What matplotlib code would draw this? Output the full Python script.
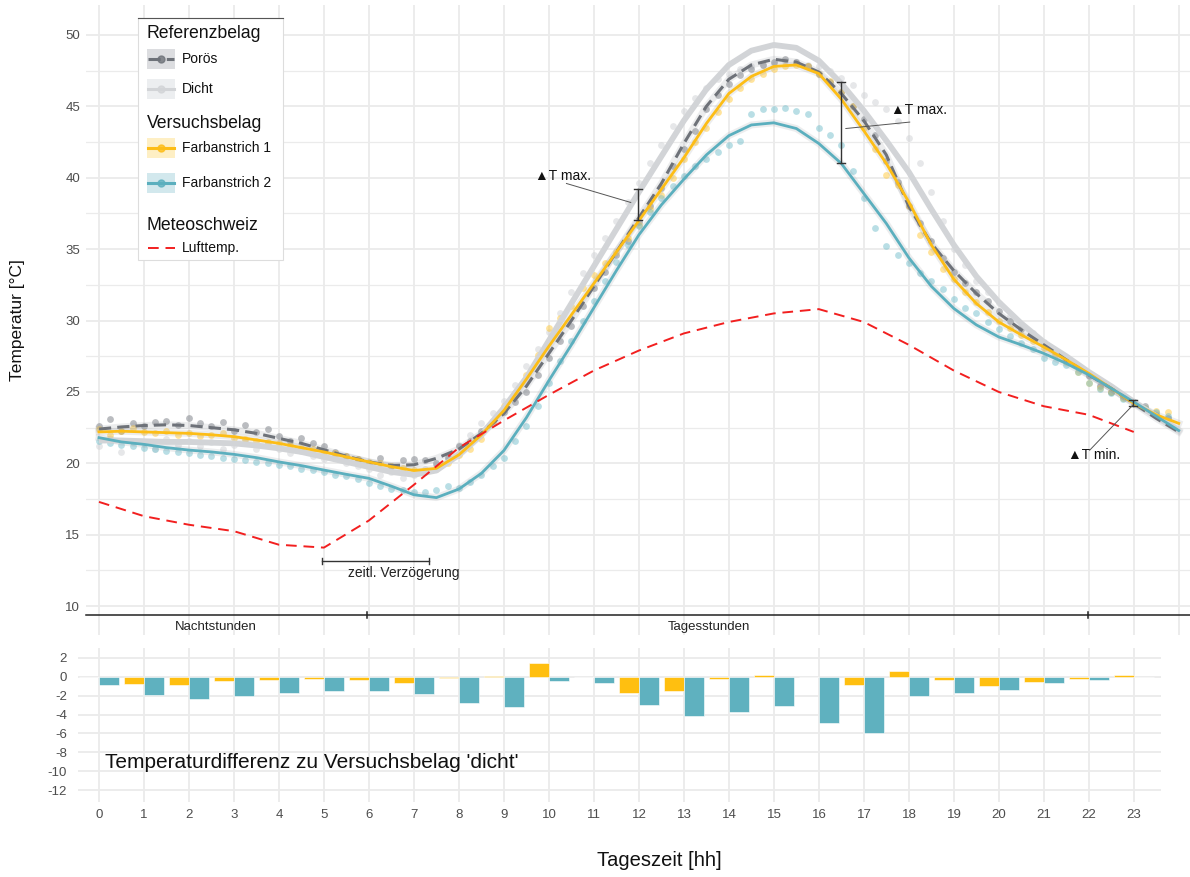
import numpy as np
import matplotlib.pyplot as plt
from matplotlib.patches import Rectangle

plt.rcParams['font.family'] = ['Liberation Sans', 'DejaVu Sans']
plt.rcParams['axes.unicode_minus'] = False

# ---- data -------------------------------------------------------------
# smoothed curves, every half hour 0..24
hours_line = np.arange(0, 24.5, 0.5)
dicht_line = [21.6, 21.6, 21.55, 21.5, 21.5, 21.45, 21.4, 21.25,
              21.05, 20.8, 20.45, 20.1, 19.75, 19.4, 19.2, 19.5,
              20.6, 22.0, 23.9, 26.0, 28.6, 31.2, 33.8, 36.4,
              39.0, 41.5, 44.0, 46.2, 47.9, 48.9, 49.3, 49.1,
              48.2, 46.6, 44.7, 42.6, 40.4, 37.8, 35.3, 33.1,
              31.3, 29.8, 28.5, 27.5, 26.4, 25.4, 24.3, 23.3, 22.3]
poroes_line = [22.4, 22.55, 22.65, 22.7, 22.65, 22.5, 22.35, 22.1,
               21.75, 21.4, 20.95, 20.5, 20.1, 19.85, 19.9, 20.35,
               21.0, 22.1, 23.5, 25.4, 27.7, 30.0, 32.4, 34.8,
               37.2, 39.6, 42.4, 45.0, 46.9, 47.9, 48.3, 48.1,
               47.4, 45.9, 44.0, 41.6, 38.0, 35.4, 33.5, 31.9,
               30.5, 29.35, 28.3, 27.25, 26.2, 25.25, 24.2, 23.15, 22.2]
farb1_line = [22.2, 22.25, 22.2, 22.15, 22.1, 22.0, 21.87, 21.64,
              21.4, 21.1, 20.8, 20.45, 20.1, 19.77, 19.5, 19.65,
              20.6, 22.0, 23.7, 25.9, 28.2, 30.4, 32.6, 34.8,
              37.0, 39.2, 41.4, 43.8, 45.9, 47.1, 47.8, 47.9,
              47.3, 45.5, 43.3, 41.0, 38.3, 35.3, 32.9, 31.2,
              29.9, 29.0, 28.15, 27.25, 26.3, 25.25, 24.2, 23.4, 22.8]
farb2_line = [21.8, 21.5, 21.33, 21.1, 20.93, 20.8, 20.63, 20.4,
              20.1, 19.84, 19.53, 19.23, 18.95, 18.4, 17.8, 17.6,
              18.2, 19.3, 20.9, 23.2, 25.8, 28.3, 30.9, 33.5,
              36.0, 38.1, 39.9, 41.6, 42.95, 43.7, 43.85, 43.45,
              42.4, 41.0, 38.9, 36.8, 34.4, 32.4, 30.85, 29.7,
              28.85, 28.3, 27.7, 27.0, 26.2, 25.25, 24.3, 23.3, 22.3]

# measured points, every quarter hour 0..23.75
hours_pts = np.arange(0, 24, 0.25)
dicht_pts = [21.2, 21.8, 20.8, 21.5, 21.4, 21.0, 21.7, 21.3,
             21.6, 21.2, 21.5, 21.0, 21.3, 21.6, 21.0, 21.4,
             21.0, 20.7, 20.9, 20.5, 20.3, 20.6, 20.0, 19.8,
             19.6, 19.2, 19.4, 19.0, 19.2, 19.6, 19.9, 20.5,
             21.3, 22.0, 22.8, 23.5, 24.4, 25.5, 26.8, 28.0,
             29.2, 30.5, 32.0, 33.3, 34.6, 35.8, 37.0, 38.3,
             39.6, 41.0, 42.3, 43.6, 44.7, 45.6, 46.3, 46.9,
             47.3, 47.6, 47.8, 47.9, 48.0, 48.2, 48.1, 47.9,
             47.8, 47.5, 47.0, 46.5, 45.8, 45.3, 44.8, 44.0,
             42.8, 41.0, 39.0, 37.0, 35.0, 33.9, 32.8, 32.0,
             31.2, 30.3, 29.6, 29.1, 28.5, 27.9, 27.3, 26.8,
             26.2, 25.5, 25.0, 24.6, 24.3, 23.9, 23.5, 23.2]
poroes_pts = [22.6, 23.1, 22.3, 22.8, 22.6, 22.9, 23.0, 22.7,
              23.2, 22.8, 22.6, 22.9, 22.3, 22.7, 22.2, 22.4,
              21.9, 21.6, 21.8, 21.4, 21.2, 20.8, 20.5, 20.3,
              20.0, 20.4, 19.8, 20.2, 20.3, 20.2, 20.0, 20.4,
              21.2, 21.6, 22.3, 23.0, 23.6, 24.3, 25.0, 26.2,
              27.4, 28.6, 29.6, 31.0, 32.3, 33.4, 34.6, 35.6,
              36.9, 38.0, 39.3, 40.8, 42.0, 43.3, 44.8, 45.8,
              46.6, 47.2, 47.6, 47.9, 48.1, 48.3, 48.1, 47.8,
              47.3, 46.7, 46.0, 45.0, 44.1, 43.0, 41.2, 39.7,
              38.0, 36.8, 35.6, 34.4, 33.4, 32.6, 32.0, 31.4,
              30.7, 30.0, 29.4, 29.0, 28.4, 27.9, 27.3, 26.8,
              26.1, 25.4, 25.0, 24.7, 24.3, 24.0, 23.4, 23.2]
farb1_pts = [22.4, 22.0, 22.3, 22.5, 22.2, 22.1, 22.3, 22.0,
             22.1, 21.9, 22.0, 22.1, 21.8, 21.7, 21.6, 21.5,
             21.4, 21.3, 21.1, 21.0, 20.8, 20.7, 20.5, 20.3,
             20.1, 20.0, 19.8, 19.7, 19.5, 19.4, 19.6, 20.0,
             20.6, 21.0, 21.7, 22.8, 24.0, 24.9, 26.2, 27.6,
             29.5, 30.2, 31.0, 32.3, 33.2, 34.0, 34.8, 35.8,
             36.7, 37.8, 38.8, 40.0, 41.3, 42.5, 43.5, 44.6,
             45.5, 46.3, 46.9, 47.3, 47.6, 47.8, 47.9, 47.8,
             47.3, 46.8, 46.0, 45.0, 43.5, 42.0, 40.2, 39.5,
             38.0, 36.0, 34.8, 33.6, 32.9, 32.0, 31.3, 30.6,
             30.0, 29.5, 29.0, 28.6, 28.1, 27.6, 27.1, 26.4,
             25.6, 25.3, 25.0, 24.6, 24.2, 23.9, 23.7, 23.6]
farb2_pts = [21.6, 21.4, 21.3, 21.2, 21.1, 21.0, 20.9, 20.8,
             20.7, 20.6, 20.5, 20.4, 20.3, 20.2, 20.1, 20.0,
             19.9, 19.8, 19.6, 19.5, 19.4, 19.2, 19.1, 18.9,
             18.6, 18.4, 18.2, 18.1, 18.0, 18.0, 18.1, 18.4,
             18.3, 18.7, 19.2, 19.8, 20.4, 21.6, 22.6, 24.0,
             25.6, 27.2, 28.6, 30.0, 31.4, 32.8, 34.1, 35.3,
             36.6, 37.6, 38.6, 39.4, 40.1, 40.8, 41.3, 41.8,
             42.3, 42.6, 44.5, 44.8, 44.8, 44.9, 44.7, 44.5,
             43.5, 43.0, 42.3, 40.5, 38.6, 36.5, 35.2, 34.6,
             34.0, 33.3, 32.8, 32.2, 31.5, 30.9, 30.5, 29.9,
             29.4, 28.9, 28.4, 28.0, 27.4, 27.1, 26.9, 26.4,
             25.6, 25.2, 24.9, 24.5, 24.2, 23.9, 23.6, 23.3]

# MeteoSchweiz air temperature, hourly
hours = list(range(24))
lufttemp = [17.3, 16.3, 15.7, 15.25, 14.3, 14.1, 16.0, 18.5, 21.1, 23.0,
            24.8, 26.5, 27.9, 29.1, 29.9, 30.5, 30.8, 29.9, 28.3, 26.5,
            25.0, 24.0, 23.4, 22.2]

# hourly difference to 'dicht'
diff_farb1 = [-0.05, -0.72, -0.83, -0.45, -0.30, -0.19, -0.30, -0.68, -0.15, 0.05,
              1.47, 0.03, -1.74, -1.47, -0.23, 0.15, 0.02, -0.90, 0.64, -0.30,
              -0.98, -0.53, -0.19, 0.15]
diff_farb2 = [-0.83, -1.96, -2.38, -2.04, -1.74, -1.51, -1.47, -1.85, -2.79, -3.17,
              -0.45, -0.64, -2.98, -4.11, -3.74, -3.09, -4.94, -6.00, -2.00, -1.66,
              -1.40, -0.64, -0.30, -0.05]

C_POR = '#6e7279'
C_DICHT = '#d2d4d7'
C_F1 = '#fdbd16'
C_F2 = '#5bafbe'
C_RED = '#f21f1f'
GRID = '#ebebeb'
TXT = '#4d4d4d'

W, H = 1190, 877
fig = plt.figure(figsize=(W / 100, H / 100), dpi=100)


def add_axes_px(left, top, right, bottom):
    return fig.add_axes([left / W, 1 - bottom / H, (right - left) / W, (bottom - top) / H])


# ---- top panel ----------------------------------------------------------
ax = add_axes_px(85.5, 5, 1190, 634.7)
ax.set_xlim(-0.3, 24.25)
ax.set_ylim(8.0, 52.1)
ax.set_xticks(range(25))
ax.set_yticks(range(10, 55, 5))
ax.set_yticks(np.arange(12.5, 52.5, 5), minor=True)
ax.grid(which='major', color=GRID, lw=1.3)
ax.grid(which='minor', axis='y', color=GRID, lw=0.9)
ax.set_axisbelow(True)
ax.tick_params(which='both', length=0, labelbottom=False, labelsize=9.5,
               labelcolor=TXT, pad=4)
for s in ax.spines.values():
    s.set_visible(False)

ax.scatter(hours_pts, dicht_pts, s=24, color=C_DICHT, alpha=0.55, lw=0, zorder=2)
ax.scatter(hours_pts, poroes_pts, s=24, color='#8c9096', alpha=0.6, lw=0, zorder=2)
ax.scatter(hours_pts, farb1_pts, s=24, color='#ffc93a', alpha=0.5, lw=0, zorder=2)
ax.scatter(hours_pts, farb2_pts, s=24, color='#74bfcc', alpha=0.5, lw=0, zorder=2)

# smooth lines with a faint confidence halo
for y in (poroes_line, farb1_line, farb2_line):
    ax.plot(hours_line, y, color='#9a9ea4', lw=5, alpha=0.18, zorder=3)
ax.plot(hours_line, dicht_line, color=C_DICHT, lw=4.2, zorder=4, solid_capstyle='butt')
ax.plot(hours_line, poroes_line, color=C_POR, lw=2.2, dashes=(4, 2), zorder=5)
ax.plot(hours_line, farb1_line, color=C_F1, lw=2.0, zorder=6)
ax.plot(hours_line, farb2_line, color=C_F2, lw=2.0, zorder=7)
ax.plot(hours, lufttemp, color=C_RED, lw=1.4, dashes=(5.5, 3.5), zorder=8)

# day / night bar
ax.plot([-0.3, 24.25], [9.4, 9.4], color='#222222', lw=1.1, clip_on=False, zorder=9)
for hx in (5.95, 21.98):
    ax.plot([hx, hx], [9.2, 9.6], color='#222222', lw=1.1, zorder=9)
ax.text(2.6, 8.55, 'Nachtstunden', ha='center', va='center', fontsize=9.5, color='#222222')
ax.text(13.55, 8.55, 'Tagesstunden', ha='center', va='center', fontsize=9.5, color='#222222')

# annotations
K = '#333333'
ax.plot([4.96, 7.34], [13.17, 13.17], color=K, lw=1.0, zorder=9)
for hx in (4.96, 7.34):
    ax.plot([hx, hx], [12.95, 13.4], color=K, lw=1.0, zorder=9)
ax.text(6.77, 12.3, 'zeitl. Verzögerung', ha='center', va='center', fontsize=10, color='#222222')


def err_v(x, y0, y1):
    ax.plot([x, x], [y0, y1], color=K, lw=1.0, zorder=10)
    for yy in (y0, y1):
        ax.plot([x - 0.09, x + 0.09], [yy, yy], color=K, lw=1.0, zorder=10)


err_v(11.98, 37.03, 39.2)
err_v(16.5, 41.05, 46.7)
err_v(22.98, 24.0, 24.43)

ax.plot([10.39, 11.82], [39.6, 38.27], color='#555555', lw=0.7, zorder=10)
ax.text(9.69, 40.11, '▲T max.', ha='left', va='center', fontsize=10, color='#111111')
ax.plot([16.6, 18.02], [43.45, 43.9], color='#555555', lw=0.7, zorder=10)
ax.text(17.6, 44.73, '▲T max.', ha='left', va='center', fontsize=10, color='#111111')
ax.plot([22.02, 22.98], [20.92, 24.08], color='#555555', lw=0.7, zorder=10)
ax.text(21.53, 20.57, '▲T min.', ha='left', va='center', fontsize=10, color='#111111')

# ---- bottom panel -------------------------------------------------------
axb = add_axes_px(78, 648, 1161, 802)
axb.set_xlim(-0.467, 23.6)
axb.set_ylim(-13.27, 3.06)
axb.bar(np.array(hours) - 0.225, diff_farb1, width=0.45, color='#ffbf10',
        edgecolor='white', lw=0.4, zorder=3)
axb.bar(np.array(hours) + 0.225, diff_farb2, width=0.45, color='#5fb1bf',
        edgecolor='white', lw=0.4, zorder=3)
axb.set_xticks(hours)
axb.set_yticks(range(2, -13, -2))
axb.grid(color=GRID, lw=1.3)
axb.set_axisbelow(True)
axb.tick_params(length=0, labelsize=9.5, labelcolor=TXT)
axb.tick_params(axis='y', pad=8)
axb.tick_params(axis='x', pad=5)
for s in axb.spines.values():
    s.set_visible(False)

fig.text(105 / W, 1 - 763 / H, "Temperaturdifferenz zu Versuchsbelag 'dicht'",
         ha='left', va='center', fontsize=15, color='#111111')
fig.text(18 / W, 1 - 320 / H, 'Temperatur [°C]', rotation=90, ha='center',
         va='center', fontsize=12.5, color='#111111')
fig.text(659 / W, 1 - 860 / H, 'Tageszeit [hh]', ha='center', va='center',
         fontsize=14.5, color='#111111')

# ---- legend (drawn in pixel space) --------------------------------------
lg = fig.add_axes([0, 0, 1, 1])
lg.set_xlim(0, W)
lg.set_ylim(H, 0)
lg.axis('off')
lg.add_patch(Rectangle((138.3, 18.3), 144.4, 241.7, facecolor='white',
                       edgecolor='#dddddd', lw=0.8))
lg.plot([138.3, 282.7], [18.3, 18.3], color='#555555', lw=0.8)

for label, y in (('Referenzbelag', 33.3), ('Versuchsbelag', 123.3), ('Meteoschweiz', 225)):
    lg.text(147, y, label, ha='left', va='center', fontsize=12.7, color='#111111')

keys = [
    ('Porös', 59, '#dcdde0', C_POR, (4, 2)),
    ('Dicht', 89, '#eceef0', C_DICHT, None),
    ('Farbanstrich 1', 147.5, '#feefc4', C_F1, None),
    ('Farbanstrich 2', 183.3, '#d2e8ed', C_F2, None),
]
for label, y, fill, col, dash in keys:
    lg.add_patch(Rectangle((147.3, y - 10), 27.7, 20, facecolor=fill, edgecolor='none'))
    if dash:
        lg.plot([148, 174], [y, y], color=col, lw=2.2, dashes=dash)
    else:
        lg.plot([148, 174], [y, y], color=col, lw=2.2)
    lg.plot([161], [y], 'o', color=col, ms=5, alpha=0.8)
    lg.text(181.7, y, label, ha='left', va='center', fontsize=10, color='#111111')

lg.plot([148, 175], [248.3, 248.3], color=C_RED, lw=1.4, dashes=(5.5, 3.5))
lg.text(181.7, 248.3, 'Lufttemp.', ha='left', va='center', fontsize=10, color='#111111')

fig.savefig('out.png', dpi=100, facecolor='white')
